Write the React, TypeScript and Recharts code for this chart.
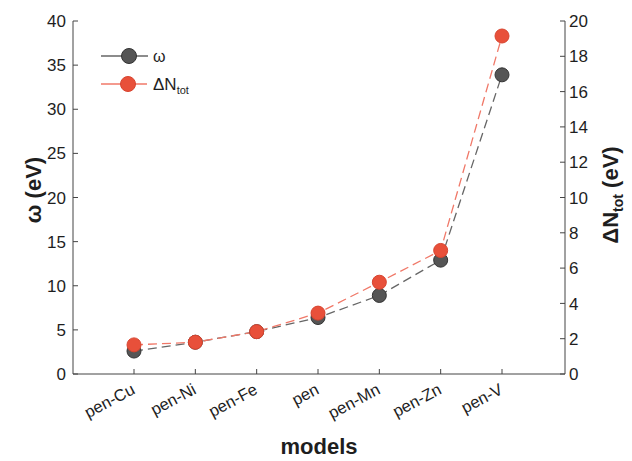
import React from "react";
import { LineChart, Line, XAxis, YAxis, Legend, Label } from "recharts";

const MODELS = ["pen-Cu", "pen-Ni", "pen-Fe", "pen", "pen-Mn", "pen-Zn", "pen-V"];
const OMEGA = [2.6, 3.6, 4.8, 6.4, 8.9, 12.9, 33.9];
const DELTA_N = [1.65, 1.8, 2.4, 3.45, 5.2, 7.0, 19.15];
const OMEGA_TICKS = [0, 5, 10, 15, 20, 25, 30, 35, 40];
const DN_TICKS = [0, 2, 4, 6, 8, 10, 12, 14, 16, 18, 20];

const data = MODELS.map((model, i) => ({
  model,
  omega: OMEGA[i],
  dn: DELTA_N[i],
}));

const FONT = '"Liberation Sans", Arial, Helvetica, sans-serif';
const INK = "#1e1e1e";
const AXIS = "#444";
const GRAY_LINE = "#666";
const GRAY_DOT = "#555";
const RED_LINE = "#f07868";
const RED_DOT = "#e8503a";

// ticks are drawn by hand so that they point into the plot
function LeftTick({ x, y, payload }: any) {
  return (
    <g>
      <line x1={x} y1={y} x2={x + 5} y2={y} stroke={AXIS} />
      <text x={x - 7} y={y} dy="0.36em" textAnchor="end" fontSize={17} fill={INK} fontFamily={FONT}>
        {payload.value}
      </text>
    </g>
  );
}

function RightTick({ x, y, payload }: any) {
  return (
    <g>
      <line x1={x - 5} y1={y} x2={x} y2={y} stroke={AXIS} />
      <text x={x + 4} y={y} dy="0.36em" textAnchor="start" fontSize={17} fill={INK} fontFamily={FONT}>
        {payload.value}
      </text>
    </g>
  );
}

function BottomTick({ x, y, payload }: any) {
  return (
    <g>
      <line x1={x} y1={y - 5} x2={x} y2={y} stroke={AXIS} />
      <g transform={`translate(${x + 2},${y + 19}) rotate(-28)`}>
        <text x={0} y={0} textAnchor="end" fontSize={16.5} fill={INK} fontFamily={FONT}>
          {payload.value}
        </text>
      </g>
    </g>
  );
}

function TopTick({ x, y }: any) {
  return <line x1={x} y1={y} x2={x} y2={y + 5} stroke={AXIS} />;
}

function LegendBox() {
  return (
    <svg width={120} height={60} style={{ display: "block" }}>
      <line x1={6} y1={16} x2={53} y2={16} stroke={GRAY_LINE} strokeWidth={1.3} />
      <circle cx={34} cy={16} r={7.5} fill={GRAY_DOT} stroke="#333" />
      <text x={58} y={16} dy="0.36em" fontSize={16} fill={INK} fontFamily={FONT}>
        ω
      </text>
      <line x1={6} y1={44} x2={52} y2={44} stroke={RED_LINE} strokeWidth={1.3} />
      <circle cx={33} cy={44} r={7.5} fill={RED_DOT} stroke="#d8442f" />
      <text x={58} y={44} dy="0.36em" fontSize={17} fill={INK} fontFamily={FONT}>
        ΔN
        <tspan fontSize={11} dy={4}>
          tot
        </tspan>
      </text>
    </svg>
  );
}

export default function App() {
  return (
    <div style={{ position: "absolute", left: 0, top: 0, width: 632, height: 461, background: "#fff" }}>
      <LineChart width={632} height={461} data={data} margin={{ top: 21, right: 0, bottom: 0, left: 0 }}>
        <XAxis
          dataKey="model"
          type="category"
          height={87}
          padding={{ left: 61, right: 63 }}
          axisLine={{ stroke: AXIS }}
          tickLine={false}
          tickSize={0}
          tickMargin={0}
          interval={0}
          tick={<BottomTick />}
        >
          <Label
            content={() => (
              <text x={319} y={454} textAnchor="middle" fontSize={22} fontWeight="bold" fill={INK} fontFamily={FONT}>
                models
              </text>
            )}
          />
        </XAxis>
        <XAxis
          xAxisId="top"
          dataKey="model"
          orientation="top"
          height={0}
          padding={{ left: 61, right: 63 }}
          axisLine={{ stroke: AXIS }}
          tickLine={false}
          tickSize={0}
          tickMargin={0}
          interval={0}
          tick={<TopTick />}
        />
        <YAxis
          yAxisId="left"
          orientation="left"
          width={73}
          domain={[0, 40]}
          ticks={OMEGA_TICKS}
          axisLine={{ stroke: AXIS }}
          tickLine={false}
          tickSize={0}
          tickMargin={0}
          interval={0}
          tick={<LeftTick />}
        >
          <Label
            content={() => (
              <text
                x={33}
                y={190}
                transform="rotate(-90, 33, 190)"
                textAnchor="middle"
                dominantBaseline="central"
                fontSize={22}
                fontWeight="bold"
                fill={INK}
                fontFamily={FONT}
              >
                ω (eV)
              </text>
            )}
          />
        </YAxis>
        <YAxis
          yAxisId="right"
          orientation="right"
          width={67}
          domain={[0, 20]}
          ticks={DN_TICKS}
          axisLine={{ stroke: AXIS }}
          tickLine={false}
          tickSize={0}
          tickMargin={0}
          interval={0}
          tick={<RightTick />}
        >
          <Label
            content={() => (
              <text
                x={618}
                y={195}
                transform="rotate(-90, 618, 195)"
                textAnchor="middle"
                fontSize={22}
                fontWeight="bold"
                fill={INK}
                fontFamily={FONT}
              >
                ΔN
                <tspan fontSize={14} dy={5}>
                  tot
                </tspan>
                <tspan dy={-5}> (eV)</tspan>
              </text>
            )}
          />
        </YAxis>
        <Legend
          layout="vertical"
          align="center"
          verticalAlign="middle"
          wrapperStyle={{ left: 95, top: 40, width: 120 }}
          content={() => <LegendBox />}
        />
        <Line
          yAxisId="left"
          dataKey="omega"
          stroke={GRAY_LINE}
          strokeWidth={1.3}
          strokeDasharray="9 5"
          dot={{ r: 7, fill: GRAY_DOT, stroke: "#333", strokeWidth: 1, fillOpacity: 1, strokeDasharray: "" }}
          isAnimationActive={false}
        />
        <Line
          yAxisId="right"
          dataKey="dn"
          stroke={RED_LINE}
          strokeWidth={1.3}
          strokeDasharray="9 5"
          dot={{ r: 7, fill: RED_DOT, stroke: "#d8442f", strokeWidth: 1, fillOpacity: 1, strokeDasharray: "" }}
          isAnimationActive={false}
        />
      </LineChart>
    </div>
  );
}
